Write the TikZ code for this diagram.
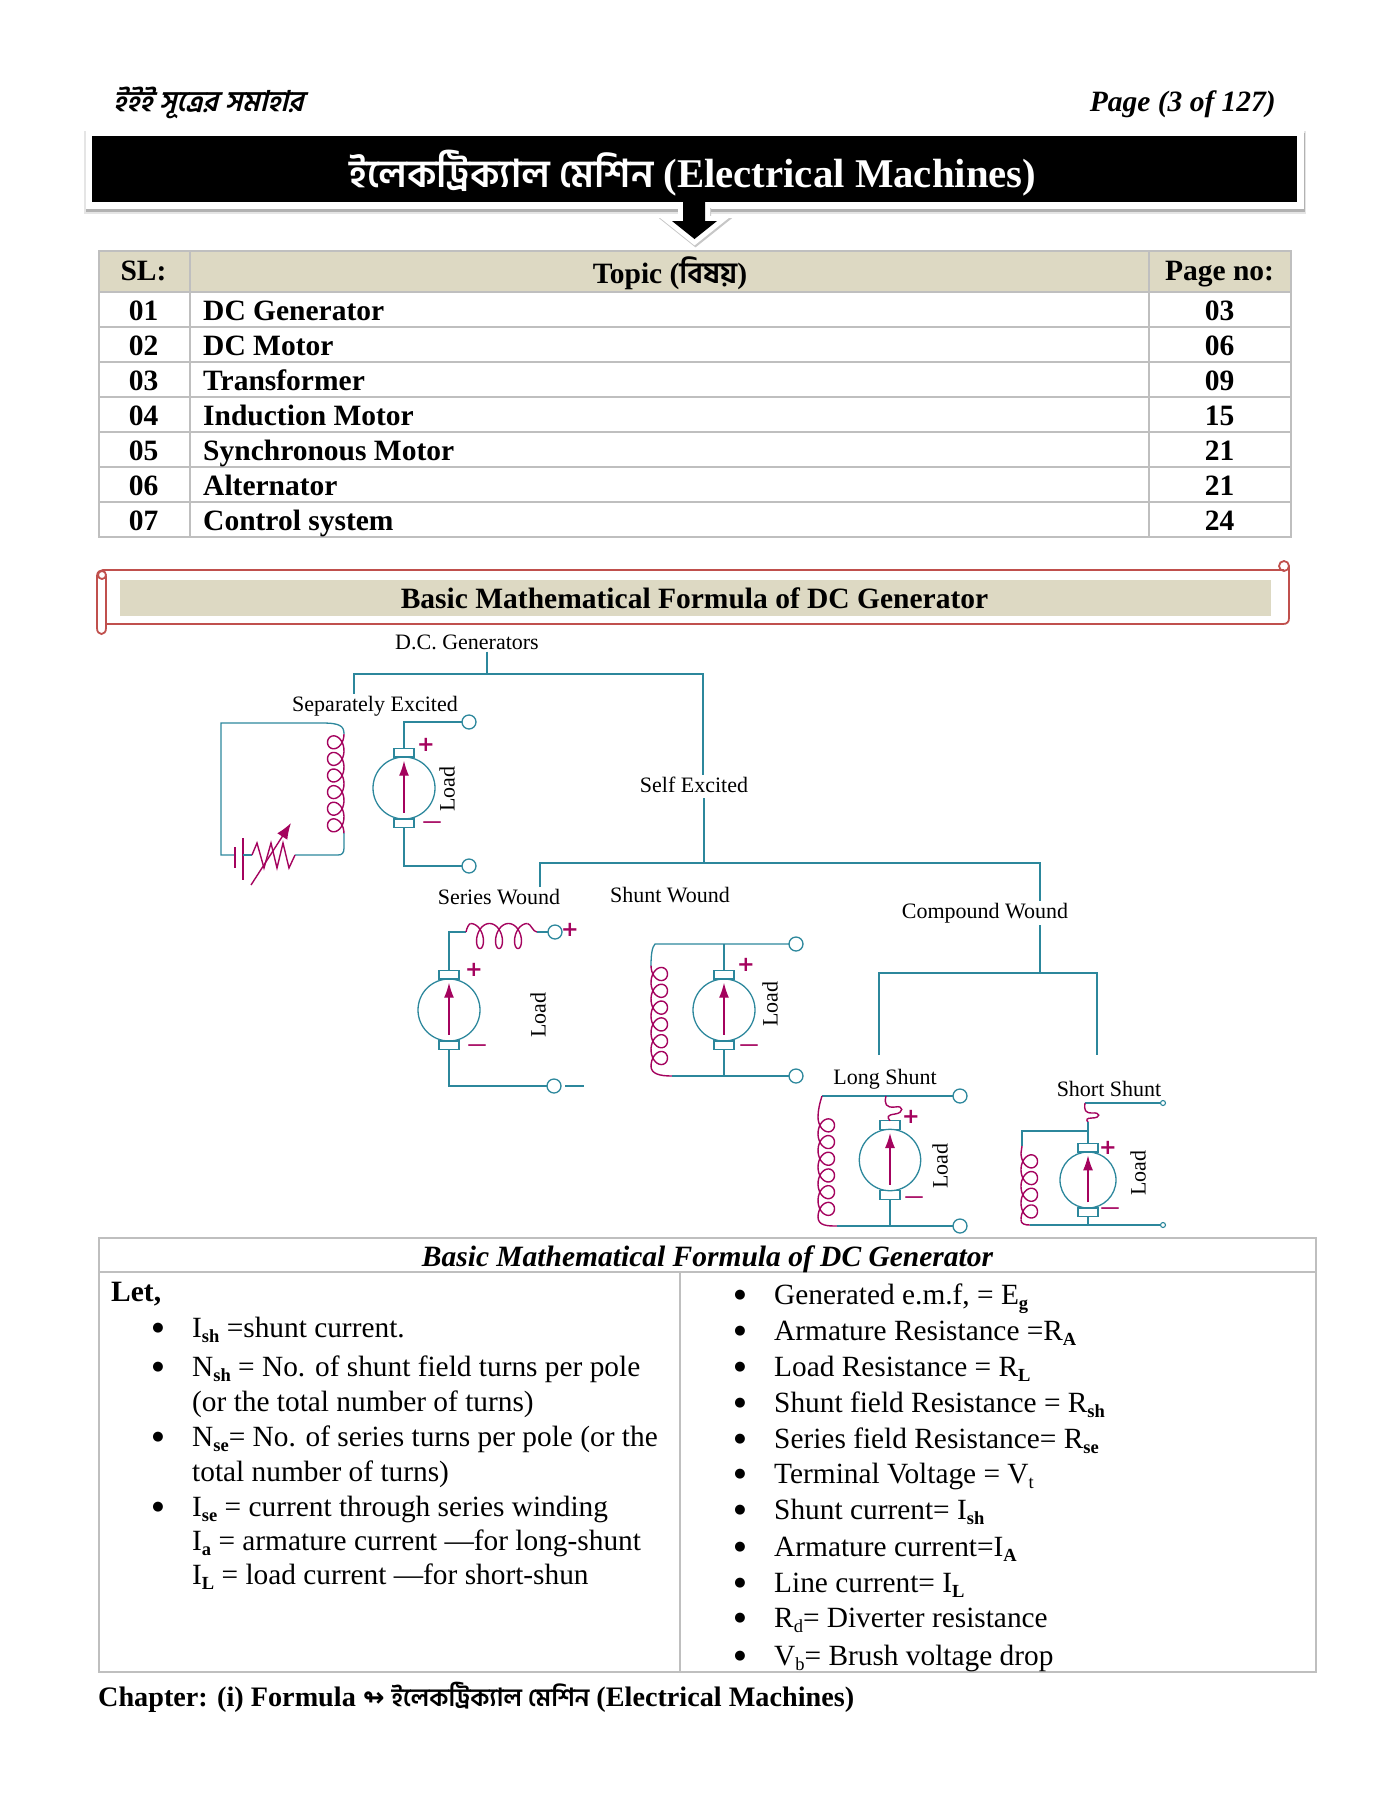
\documentclass[tikz,border=0pt]{standalone}
\usepackage{fontspec}
\setmainfont{Liberation Serif}
\newfontfamily\bnfont[Script=Bengali]{Hind Siliguri}
\newfontfamily\bnslant[Script=Bengali,FakeSlant=0.25]{Hind Siliguri}
\newfontfamily\symfont{DejaVu Sans}
\usepackage{tikz}
\usetikzlibrary{calc}
\usetikzlibrary{arrows.meta}
\definecolor{wireteal}{HTML}{2C879C}
\definecolor{coilmag}{HTML}{A4035E}
\definecolor{headtan}{HTML}{DDD9C3}
\definecolor{gridgray}{HTML}{BFBFBF}
\definecolor{scrollred}{HTML}{C0504D}
\newcommand{\subb}[1]{\raisebox{-.17em}{\fontsize{18.5}{19}\selectfont\bfseries #1}}
\newcommand{\subr}[1]{\raisebox{-.17em}{\fontsize{18.5}{19}\selectfont #1}}
\newcommand{\dcmachine}[4]{%
    \node[armature, minimum size=#4*2pt] (#1) at (#2,#3) {};
    \draw[wire] (#1.north) ++ (-10,0) rectangle ++ (20,-8.5);
    \draw[wire] (#1.south) ++ (-10,0) rectangle ++ (20,8.5);
    \draw[coilline, -{Latex[length=15pt,width=10pt]}] (#1.center) ++ (0,#4*.8) -- ++ (0,-#4*1.68);
    \coordinate (#1t) at ($(#1.north)+(0,-8.5)$);
    \coordinate (#1b) at ($(#1.south)+(0,8.5)$);
}
\newcommand{\coilplot}[7]{%
    \draw[coilline, shift={(#1,#2)}, rotate=#3] plot[domain=0:#4, samples=161] ({#6*.5*(1-cos(360*\x))},{#5*\x+#7*#5*sin(360*\x)});
}
\tikzset{
    wire/.style={draw=wireteal, line width=1.3pt},
    coilline/.style={draw=coilmag, line width=1.4pt},
    armature/.style={circle, draw=wireteal, line width=1.3pt, inner sep=0pt, outer sep=0pt},
    term/.style={circle, draw=wireteal, line width=1.3pt, inner sep=0pt, outer sep=0pt, minimum size=14pt},
    smallterm/.style={circle, draw=wireteal, line width=1.1pt, inner sep=0pt, outer sep=0pt, minimum size=5pt},
    tree/.style={font=\fontsize{22}{22}\selectfont, inner sep=2pt},
    plusmark/.style={font=\symfont\bfseries\fontsize{21}{21}\selectfont, text=coilmag, inner sep=0pt},
    minusmark/.style={font=\fontsize{34}{34}\selectfont, text=coilmag, inner sep=0pt},
    gridline/.style={draw=gridgray, line width=1.5pt},
    scrolledge/.style={draw=scrollred, line width=1.8pt},
    headbf/.style={font=\fontsize{29.5}{30}\selectfont\bfseries, inner sep=0pt, anchor=base},
    rowleft/.style={font=\fontsize{29.5}{30}\selectfont\bfseries, inner sep=0pt, anchor=base west},
    body/.style={font=\fontsize{29.35}{30}\selectfont, inner sep=0pt, anchor=base west},
    bullet/.style={font=\symfont\fontsize{13}{13}\selectfont, inner sep=0pt, anchor=base, yshift=5.5pt},
}
\begin{document}
\begin{tikzpicture}[x=1pt,y=-1pt]
    \useasboundingbox (0,0) rectangle (1389,1797);

    \node[anchor=base west, inner sep=0pt, font=\fontsize{28.5}{30}\selectfont\bfseries] (running) at (113,111) {\bnslant ইইই সূত্রের সমাহার};
    \node[anchor=base east, inner sep=0pt, font=\fontsize{29.5}{30}\selectfont\bfseries\itshape] (pageof) at (1276,111) {Page (3 of 127)};

    \fill[black!10!white] (84,131) rectangle (1306,214);
    \fill[black!30!white] (86,133) rectangle (1305,212);
    \fill[white] (86,129) rectangle (1304,209);
    \fill[black] (92,136) rectangle (1297,202);
    \node[text=white, anchor=base, inner sep=0pt, font=\fontsize{40.8}{42}\selectfont\bfseries] (title) at (693,187) {{\bnfont\fontsize{38.4}{42}\selectfont ইলেকট্রিক্যাল মেশিন} \rmfamily(Electrical Machines)};

    \fill[headtan] (99,251) rectangle (1291,292);
    \draw[draw=black!22!white, line width=10pt, line join=miter] (684,213) -- ++ (22,0) -- ++ (0,10) -- ++ (12,0) -- (695.5,241) -- (673,223) -- ++ (11,0) -- cycle;
    \draw[draw=white, line width=10pt, line join=miter] (683,210) -- ++ (22,0) -- ++ (0,11) -- ++ (12,0) -- (694.5,239) -- (672,221) -- ++ (11,0) -- cycle;
    \fill[black] (683,202) -- ++ (22,0) -- ++ (0,19) -- ++ (12,0) -- (694.5,239) -- (672,221) -- ++ (11,0) -- cycle;

    \draw[gridline] (99,251) rectangle (1291,537);
    \draw[gridline] (190,251) -- (190,537);
    \draw[gridline] (1149,251) -- (1149,537);
    \draw[gridline] (99,292) -- (1291,292);
    \draw[gridline] (99,327) -- (1291,327);
    \draw[gridline] (99,362) -- (1291,362);
    \draw[gridline] (99,397) -- (1291,397);
    \draw[gridline] (99,432) -- (1291,432);
    \draw[gridline] (99,467) -- (1291,467);
    \draw[gridline] (99,502) -- (1291,502);

    \node[headbf] (sl) at (143.5,280) {SL:};
    \node[headbf] (topic) at (670,283) {Topic (\bnfont বিষয়\rmfamily)};
    \node[headbf] (pageno) at (1219.5,280) {Page no:};
    \node[headbf] (sla) at (143.5,320) {01};
    \node[headbf] (slb) at (143.5,355) {02};
    \node[headbf] (slc) at (143.5,390) {03};
    \node[headbf] (sld) at (143.5,425) {04};
    \node[headbf] (sle) at (143.5,460) {05};
    \node[headbf] (slf) at (143.5,495) {06};
    \node[headbf] (slg) at (143.5,530) {07};
    \node[rowleft] (topa) at (203,320) {DC Generator};
    \node[rowleft] (topb) at (203,355) {DC Motor};
    \node[rowleft] (topc) at (203,390) {Transformer};
    \node[rowleft] (topd) at (203,425) {Induction Motor};
    \node[rowleft] (tope) at (203,460) {Synchronous Motor};
    \node[rowleft] (topf) at (203,495) {Alternator};
    \node[rowleft] (topg) at (203,530) {Control system};
    \node[headbf] (pga) at (1219.5,320) {03};
    \node[headbf] (pgb) at (1219.5,355) {06};
    \node[headbf] (pgc) at (1219.5,390) {09};
    \node[headbf] (pgd) at (1219.5,425) {15};
    \node[headbf] (pge) at (1219.5,460) {21};
    \node[headbf] (pgf) at (1219.5,495) {21};
    \node[headbf] (pgg) at (1219.5,530) {24};

    \fill[headtan] (120,580) rectangle (1271,616);
    \draw[scrolledge] (106,576) -- (106,628) .. controls (106,636) and (97,636) .. (97,628) -- (97,576) .. controls (97,572) and (100,570) .. (103,570) -- (1284,570);
    \draw[scrolledge] (102,575) circle (4);
    \draw[scrolledge] (106,624) -- (1283,624) .. controls (1287,624) and (1289,622) .. (1289,618) -- (1289,566);
    \draw[scrolledge] (1284,566) circle (5);
    \node[headbf] (formhead) at (694.5,608) {Basic Mathematical Formula of DC Generator};

    \node[tree] (dcgen) at (467,642) {D.C. Generators};
    \node[tree] (sepex) at (375,706) {Separately Excited};
    \node[tree] (selfex) at (694,785) {Self Excited};
    \node[tree] (serw) at (499,897) {Series Wound};
    \node[tree] (shuw) at (670,895) {Shunt Wound};
    \node[tree] (compw) at (985,913) {Compound Wound};
    \node[tree] (longs) at (885,1079) {Long Shunt};
    \node[tree] (shorts) at (1109,1089) {Short Shunt};

    \coordinate (topj) at (487,674);
    \coordinate (sepj) at (354,674);
    \coordinate (selfj) at (703,674);
    \coordinate (woundj) at (704,863);
    \coordinate (serj) at (540,863);
    \coordinate (compj) at (1040,863);
    \coordinate (cdiv) at (1040,973);
    \coordinate (longj) at (879,973);
    \coordinate (shortj) at (1097,973);
    \coordinate (longe) at (879,1055);
    \coordinate (shorte) at (1097,1055);
    \draw[wire] (dcgen.south -| topj) -- (topj);
    \draw[wire] (sepex.north -| sepj) -- (sepj) -- (selfj) -- (selfex.north -| selfj);
    \draw[wire] ($(selfex.south -| woundj)+(0,3)$) -- (woundj);
    \draw[wire] (serw.north -| serj) -- (serj) -- (compj) -- (compw.north -| compj);
    \draw[wire] (compw.south -| compj) -- (cdiv);
    \draw[wire] (longe) -- (longj) -- (shortj) -- (shorte);

    % separately excited
    \dcmachine{sepm}{404}{788}{31}
    \node[term] (sepp) at (469,722) {};
    \node[term] (sepn) at (469,866) {};
    \draw[wire] (sepmt) |- (sepp.west);
    \draw[wire] (sepmb) |- (sepn.west);
    \node[plusmark] (sepplus) at (426,745) {+};
    \node[minusmark] (sepminus) at (432,826) {–};
    \node[tree, rotate=90] (sepload) at (447,789) {Load};
    \coilplot{344}{734}{0}{6}{16.6}{-16.5}{.62}
    \draw[wire] (344,734) .. controls (344,726) and (340,723) .. (322,723) -- (221,723) -- (221,855) -- (235,855);
    \draw[wire] (344,833) -- (344,848) .. controls (344,853) and (342,855) .. (338,855) -- (295,855);
    \draw[coilline] (235,847) -- (235,868);
    \draw[coilline] (243,838) -- (243,880);
    \draw[wire] (243,855) -- (252,855);
    \draw[coilline] (252,855) -- (257,843) -- (264,868) -- (271,843) -- (277,868) -- (283,843) -- (289,868) -- (295,855);
    \draw[coilline, -{Latex[length=16pt,width=12pt]}] (251,885) -- (291,823);

    % series
    \dcmachine{serm}{449}{1010}{31}
    \node[term] (serp) at (555,932) {};
    \node[term] (sern) at (554,1086) {};
    \coordinate (serl) at (584,1086);
    \draw[wire] (sermt) |- (466,932);
    \coilplot{470.5}{923.5}{90}{3}{19}{-25}{.4}
    \draw[coilline] (466,932) .. controls (467,927) and (469,924) .. (470.5,923.5);
    \draw[coilline] (527.5,923.5) .. controls (531,924) and (533,932) .. (537,932);
    \draw[wire] (537,932) -- (serp.west);
    \draw[wire] (sermb) |- (sern.west);
    \draw[wire] (sern.east) ++ (4,0) -- (serl);
    \node[plusmark] (serplus) at (474,970) {+};
    \node[plusmark] (serpt) at (570,930) {+};
    \node[minusmark] (serminus) at (477,1049) {–};
    \node[tree, rotate=90] (serload) at (538,1015) {Load};

    % shunt
    \dcmachine{shum}{724}{1010}{31}
    \node[term] (shup) at (796,944) {};
    \node[term] (shun) at (796,1076) {};
    \coordinate (shua) at (655,944);
    \coordinate (shub) at (672,1076);
    \draw[wire] (shup.west) -- (shua) .. controls (652,947) and (651,955) .. (651,966);
    \coilplot{651}{965.6}{0}{6}{16.8}{16.5}{.62}
    \draw[coilline] (651,1066) .. controls (651,1074) and (660,1076) .. (shub);
    \draw[wire] (shub) -- (shun.west);
    \draw[wire] (shumt) -- (shumt |- shua);
    \draw[wire] (shumb) -- (shumb |- shub);
    \node[plusmark] (shuplus) at (746,965) {+};
    \node[minusmark] (shuminus) at (749,1049) {–};
    \node[tree, rotate=90] (shuload) at (770,1004) {Load};

    % long shunt
    \dcmachine{lonm}{890}{1160}{30.7}
    \node[term] (lonp) at (960,1096) {};
    \node[term] (lonn) at (960,1226) {};
    \coordinate (lona) at (822,1096);
    \coordinate (lonb) at (837,1226);
    \draw[wire] (lonp.west) -- (lona);
    \draw[coilline] (lona) .. controls (820,1102) and (818,1110) .. (818,1117);
    \coilplot{818}{1117}{0}{6}{16.7}{16.5}{.62}
    \draw[coilline] (818,1217) .. controls (818,1226) and (828,1226) .. (lonb);
    \draw[wire] (lonb) -- (lonn.west);
    \draw[wire] (lonmb) -- (lonmb |- lonb);
    \draw[coilline] (886,1096) .. controls (884,1104) and (886,1108) .. (895,1107) .. controls (904,1105) and (904,1113) .. (895,1114) .. controls (887,1115) and (887,1117) .. (lonmt);
    \node[plusmark] (lonplus) at (911,1117) {+};
    \node[minusmark] (lonminus) at (914,1201) {–};
    \node[tree, rotate=90] (lonload) at (940,1166) {Load};

    % short shunt
    \dcmachine{shom}{1088}{1180}{28}
    \node[smallterm] (shop) at (1163,1103) {};
    \node[smallterm] (shon) at (1163,1225) {};
    \coordinate (shoa) at (1085,1103);
    \coordinate (shob) at (1088,1122);
    \coordinate (shoc) at (1022,1131);
    \draw[wire] (shop.west) -- (shoa);
    \draw[coilline] (shoa) .. controls (1084,1110) and (1085,1113) .. (1092,1113) .. controls (1101,1112) and (1101,1118) .. (1092,1118) .. controls (1086,1118) and (1086,1120) .. (shob);
    \draw[wire] (shob) -- (shomt);
    \draw[wire] (shob |- shoc) -- (shoc) -- (1022,1146);
    \draw[coilline] (1022,1146) -- (1021,1153);
    \coilplot{1021}{1153}{0}{4}{16.7}{16.5}{.62}
    \draw[coilline] (1021,1220) .. controls (1021,1224) and (1025,1225) .. (1030,1225);
    \draw[wire] (1030,1225) -- (shon.west);
    \draw[wire] (shomb) -- (shomb |- shon);
    \node[plusmark] (shoplus) at (1108,1148) {+};
    \node[minusmark] (shominus) at (1110,1212) {–};
    \node[tree, rotate=90] (sholoa) at (1138,1173) {Load};

    \draw[gridline] (99,1238) rectangle (1316,1672);
    \draw[gridline] (99,1272) -- (1316,1272);
    \draw[gridline] (680,1272) -- (680,1672);
    \node[headbf, font=\fontsize{29.5}{30}\selectfont\bfseries\itshape] (tabtitle) at (707.5,1266) {Basic Mathematical Formula of DC Generator};

    \node[rowleft] (letn) at (111,1301) {Let,};
    \node[bullet] (bla) at (158,1337) {●};
    \node[body] (lta) at (192,1337) {I\subb{sh} =shunt current.};
    \node[bullet] (blb) at (158,1376) {●};
    \node[body] (ltb) at (192,1376) {N\subb{sh} = No. of shunt field turns per pole};
    \node[body] (ltc) at (192,1411) {(or the total number of turns)};
    \node[bullet] (bld) at (158,1446) {●};
    \node[body] (ltd) at (192,1446) {N\subb{se}= No. of series turns per pole (or the};
    \node[body] (lte) at (192,1481) {total number of turns)};
    \node[bullet] (blf) at (158,1516) {●};
    \node[body] (ltf) at (192,1516) {I\subb{se} = current through series winding};
    \node[body] (ltg) at (192,1550) {I\subb{a} = armature current —for long-shunt};
    \node[body] (lth) at (192,1584) {I\subb{L} = load current —for short-shun};

    \node[bullet] (bra) at (740,1304) {●};
    \node[body] (rta) at (774,1304) {Generated e.m.f, = E\subb{g}};
    \node[bullet] (brb) at (740,1340) {●};
    \node[body] (rtb) at (774,1340) {Armature Resistance =R\subb{A}};
    \node[bullet] (brc) at (740,1376) {●};
    \node[body] (rtc) at (774,1376) {Load Resistance = R\subb{L}};
    \node[bullet] (brd) at (740,1412) {●};
    \node[body] (rtd) at (774,1412) {Shunt field Resistance = R\subb{sh}};
    \node[bullet] (bre) at (740,1448) {●};
    \node[body] (rte) at (774,1448) {Series field Resistance= R\subb{se}};
    \node[bullet] (brf) at (740,1483) {●};
    \node[body] (rtf) at (774,1483) {Terminal Voltage = V\subr{t}};
    \node[bullet] (brg) at (740,1519) {●};
    \node[body] (rtg) at (774,1519) {Shunt current= I\subb{sh}};
    \node[bullet] (brh) at (740,1556) {●};
    \node[body] (rth) at (774,1556) {Armature current=I\subb{A}};
    \node[bullet] (bri) at (740,1592) {●};
    \node[body] (rti) at (774,1592) {Line current= I\subb{L}};
    \node[bullet] (brj) at (740,1627) {●};
    \node[body] (rtj) at (774,1627) {R\subr{d}= Diverter resistance};
    \node[bullet] (brk) at (740,1665) {●};
    \node[body] (rtk) at (774,1665) {V\subr{b}= Brush voltage drop};

    \node[rowleft, font=\fontsize{28.2}{30}\selectfont\bfseries] (chapter) at (98,1706) {Chapter: (i) Formula {\symfont\fontsize{26}{26}\selectfont ↬} {\bnfont\fontsize{25}{26}\selectfont ইলেকট্রিক্যাল মেশিন} (Electrical Machines)};
\end{tikzpicture}
\end{document}
